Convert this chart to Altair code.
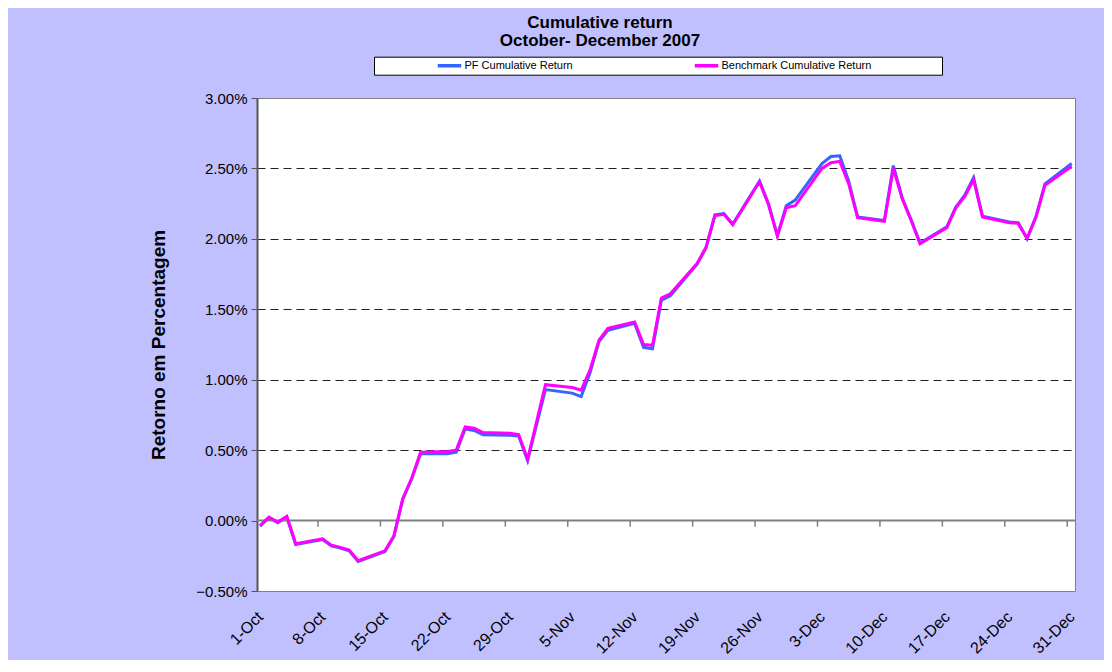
import altair as alt
import pandas as pd

FONT = "Liberation Sans"

dates = [
    "2007-10-01", "2007-10-02", "2007-10-03", "2007-10-04", "2007-10-05",
    "2007-10-08", "2007-10-09", "2007-10-10", "2007-10-11", "2007-10-12",
    "2007-10-15", "2007-10-16", "2007-10-17", "2007-10-18", "2007-10-19",
    "2007-10-22", "2007-10-23", "2007-10-24", "2007-10-25", "2007-10-26",
    "2007-10-29", "2007-10-30", "2007-10-31", "2007-11-01", "2007-11-02",
    "2007-11-05", "2007-11-06", "2007-11-07", "2007-11-08", "2007-11-09",
    "2007-11-12", "2007-11-13", "2007-11-14", "2007-11-15", "2007-11-16",
    "2007-11-19", "2007-11-20", "2007-11-21", "2007-11-22", "2007-11-23",
    "2007-11-26", "2007-11-27", "2007-11-28", "2007-11-29", "2007-11-30",
    "2007-12-03", "2007-12-04", "2007-12-05", "2007-12-06", "2007-12-07",
    "2007-12-10", "2007-12-11", "2007-12-12", "2007-12-13", "2007-12-14",
    "2007-12-17", "2007-12-18", "2007-12-19", "2007-12-20", "2007-12-21",
    "2007-12-24", "2007-12-25", "2007-12-26", "2007-12-27", "2007-12-28",
    "2007-12-31",
]

# cumulative returns in percent
pf_return = [
    -0.040, 0.020, -0.015, 0.025, -0.170,
    -0.135, -0.180, -0.195, -0.215, -0.290,
    -0.220, -0.115, 0.150, 0.295, 0.475,
    0.475, 0.485, 0.650, 0.640, 0.610,
    0.605, 0.600, 0.425, 0.680, 0.930,
    0.905, 0.880, 1.050, 1.270, 1.350,
    1.400, 1.230, 1.220, 1.565, 1.595,
    1.820, 1.935, 2.170, 2.180, 2.105,
    2.410, 2.250, 2.025, 2.235, 2.275,
    2.535, 2.585, 2.590, 2.410, 2.155,
    2.130, 2.520, 2.290, 2.135, 1.970,
    2.085, 2.225, 2.310, 2.435, 2.160,
    2.120, 2.115, 2.000, 2.160, 2.390,
    2.535,
]

bench_return = [
    -0.035, 0.025, -0.010, 0.030, -0.165,
    -0.130, -0.175, -0.190, -0.210, -0.285,
    -0.215, -0.110, 0.155, 0.300, 0.485,
    0.490, 0.500, 0.665, 0.655, 0.625,
    0.620, 0.610, 0.435, 0.700, 0.965,
    0.945, 0.925, 1.070, 1.280, 1.365,
    1.410, 1.250, 1.245, 1.580, 1.610,
    1.825, 1.940, 2.165, 2.175, 2.100,
    2.405, 2.245, 2.020, 2.220, 2.235,
    2.500, 2.540, 2.550, 2.390, 2.150,
    2.125, 2.500, 2.285, 2.130, 1.965,
    2.080, 2.220, 2.300, 2.420, 2.155,
    2.115, 2.110, 2.005, 2.155, 2.380,
    2.515,
]

series_names = ["PF Cumulative Return", "Benchmark Cumulative Return"]
series_colors = ["#3366FF", "#FF00FF"]

y_tick_values = [-0.5, 0.0, 0.5, 1.0, 1.5, 2.0, 2.5, 3.0]
x_tick_dates = [
    "2007-10-01", "2007-10-08", "2007-10-15", "2007-10-22", "2007-10-29",
    "2007-11-05", "2007-11-12", "2007-11-19", "2007-11-26", "2007-12-03",
    "2007-12-10", "2007-12-17", "2007-12-24", "2007-12-31",
]

DAY = 86400000


def ms(s):
    return int(pd.Timestamp(s, tz="UTC").value // 10**6)


n = len(dates)
df = pd.DataFrame({
    "date": dates + dates,
    "series": [series_names[0]] * n + [series_names[1]] * n,
    "ret": [v / 100 for v in pf_return] + [v / 100 for v in bench_return],
})

# tick marks on the zero line sit at day boundaries (half a day before each point)
ticks_df = pd.DataFrame({"date": [ms(d) - DAY // 2 for d in x_tick_dates[1:]]})

x_scale = alt.Scale(type="utc", domain=[ms("2007-10-01") - int(0.34 * DAY),
                                        ms("2007-12-31") + int(0.37 * DAY)])
y_scale = alt.Scale(domain=[-0.005, 0.03], nice=False, zero=False)

x_axis = alt.Axis(
    values=[ms(d) for d in x_tick_dates],
    labelExpr="utcFormat(datum.value, '%-d-%b')",
    labelAngle=315, labelAlign="right", labelBaseline="middle",
    labelPadding=23, labelFont=FONT, labelFontSize=16, labelColor="black",
    labelOverlap=False, labelFlush=False, labelBound=False,
    ticks=False, domain=False, grid=False, title=None,
)

y_axis = alt.Axis(
    values=[v / 100 for v in y_tick_values], format=".2%",
    labelFont=FONT, labelFontSize=15, labelColor="black", labelPadding=4,
    tickSize=6, tickColor="#555555", tickWidth=1,
    domainColor="#555555", domainWidth=2,
    grid=True, gridColor="#222222", gridDash=[8, 5], gridWidth=1,
    gridOpacity={"condition": {"test": "datum.value > 0.001 && datum.value < 0.029", "value": 1}, "value": 0},
    title="Retorno em Percentagem", titleFont=FONT, titleFontSize=19,
    titleFontWeight="bold", titleColor="black",
    titleX=-99, titleY=246.5, titleAngle=270, titleAlign="center", titleBaseline="middle",
)

x_enc = alt.X("date:T", scale=x_scale, axis=x_axis)

LEFT_SPACER = "\u200b" + "\u00a0" * 19 + "\u200b"
RIGHT_SPACER = "\u200b" + "\u00a0" * 22 + "\u200b"

legend = alt.Legend(
    orient="none", legendX=117, legendY=-41.3, direction="horizontal",
    title=LEFT_SPACER, titleOrient="left", titleFont=FONT, titleFontSize=11, titlePadding=0,
    fillColor="white", strokeColor="black", padding=3, columnPadding=120,
    clipHeight=12,
    labelFont=FONT, labelFontSize=11, labelColor="black", labelOffset=1.5, labelLimit=500,
    labelExpr="datum.label == 'Benchmark Cumulative Return' ? datum.label + '" + RIGHT_SPACER + "' : datum.label",
    symbolType="stroke", symbolSize=550, symbolStrokeWidth=3.5,
)

color_enc = alt.Color("series:N", scale=alt.Scale(domain=series_names, range=series_colors),
                      legend=legend)

zero_line = alt.Chart(pd.DataFrame({"z": [0]})).mark_rule(color="#808080", strokeWidth=2).encode(
    y=alt.datum(0, scale=y_scale)
)

zero_ticks = alt.Chart(ticks_df).mark_rule(color="#808080", strokeWidth=1.5).encode(
    x=x_enc, y=alt.datum(0), y2=alt.datum(-0.00043)
)

base = alt.Chart(df).mark_line(strokeWidth=3).encode(
    x=x_enc,
    y=alt.Y("ret:Q", scale=y_scale, axis=y_axis),
    color=color_enc,
)

pf_line = base.transform_filter(alt.datum.series == series_names[0])
bench_line = base.transform_filter(alt.datum.series == series_names[1])

chart = alt.layer(pf_line, zero_line, zero_ticks, bench_line).properties(
    width=818,
    height=493,
    title=alt.TitleParams(
        text=["Cumulative return", "October- December 2007"],
        font=FONT, fontSize=17, fontWeight="bold", color="black",
        anchor="middle", frame="group", dx=-66, dy=23, lineHeight=18, offset=12,
        baseline="bottom",
    ),
    autosize=alt.AutoSizeParams(type="none"),
    padding={"left": 249, "top": 90, "right": 29, "bottom": 69},
).configure(
    background="#C0C0FF",
).configure_view(
    stroke="#808080", strokeWidth=1, fill="white",
)

chart.save("out.html", embed_options={"renderer": "svg", "actions": False})
